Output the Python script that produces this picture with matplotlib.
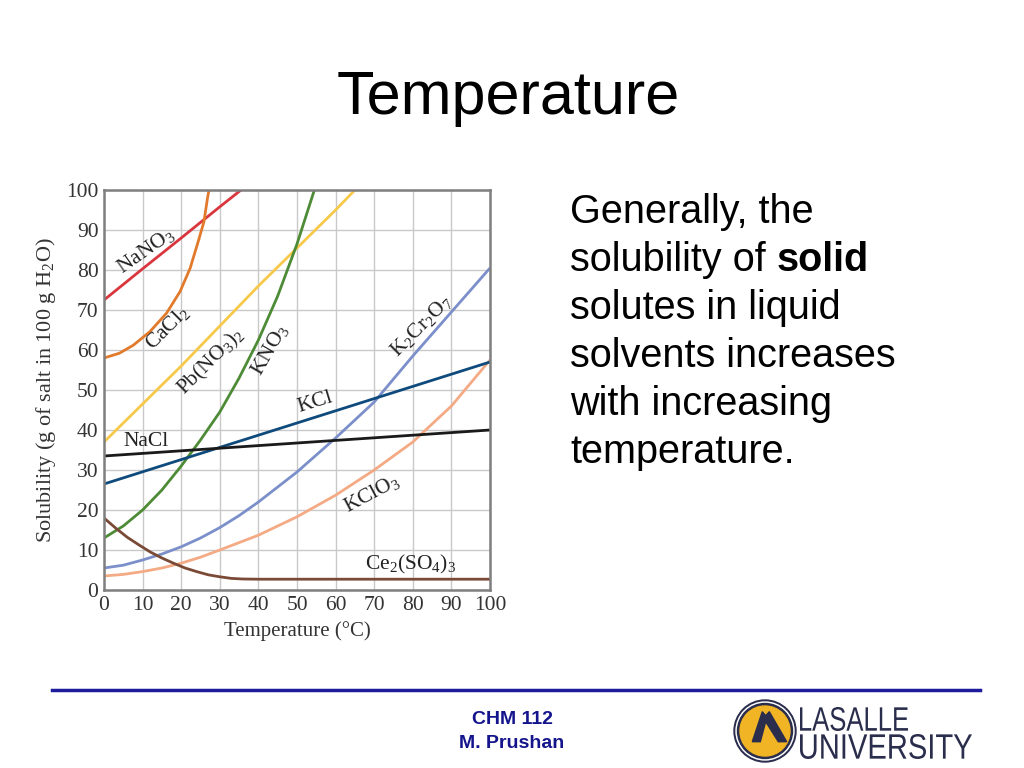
import numpy as np
import matplotlib
matplotlib.use('Agg')
import matplotlib.pyplot as plt
from matplotlib.patches import Circle, Polygon, PathPatch
from matplotlib.lines import Line2D
from matplotlib.textpath import TextPath
from matplotlib.font_manager import FontProperties
from matplotlib.transforms import Affine2D

plt.rcParams['mathtext.fontset'] = 'custom'
plt.rcParams['mathtext.rm'] = 'Liberation Serif'
plt.rcParams['mathtext.it'] = 'Liberation Serif:italic'

SERIF = ['Liberation Serif', 'DejaVu Serif']
SANS = ['Liberation Sans', 'DejaVu Sans']

# solubility curves (T in degC, S in g / 100 g water)
t_nano3 = [0, 10, 20, 30, 35.5]
s_nano3 = [72.5, 80.3, 88, 95.8, 100]

t_cacl2 = [0, 4, 7.6, 11.9, 16.2, 19.7, 22.3, 24.4, 25.9, 26.8, 27.2]
s_cacl2 = [58, 59.2, 61.2, 64.6, 69.2, 74.6, 80.4, 87.1, 92.1, 97.9, 100]

t_pbno3 = [0, 10, 20, 30, 40, 50, 60, 65]
s_pbno3 = [37, 46.5, 56, 66, 76, 85.5, 95, 100]

t_kno3 = [0, 5, 10, 15, 20, 25, 30, 35, 40, 45, 50, 54.5]
s_kno3 = [13, 16, 20, 25, 31, 37.5, 44.5, 53, 62.5, 73.5, 86.5, 100]

t_k2cr2o7 = [0, 5, 10, 15, 20, 25, 30, 35, 40, 50, 60, 70, 80, 90, 100]
s_k2cr2o7 = [5.5, 6.2, 7.5, 9, 10.8, 13, 15.6, 18.6, 22, 29.5, 38, 47, 58.5, 69.5, 80.5]

t_kcl = [0, 20, 40, 60, 80, 100]
s_kcl = [26.5, 32.6, 38.7, 44.8, 50.9, 57]

t_nacl = [0, 20, 40, 60, 80, 100]
s_nacl = [33.5, 34.8, 36.1, 37.4, 38.7, 40]

t_kclo3 = [0, 5, 10, 15, 20, 25, 30, 40, 50, 60, 70, 80, 90, 100]
s_kclo3 = [3.5, 3.9, 4.6, 5.5, 6.7, 8.2, 10, 13.7, 18.3, 23.7, 30, 37, 46, 57.5]

t_ce = [0, 3, 6, 9, 12, 15, 18, 21, 24, 27, 30, 33, 36, 40, 100]
s_ce = [18, 15.5, 13.2, 11.3, 9.5, 8, 6.7, 5.5, 4.6, 3.8, 3.3, 2.9, 2.75, 2.7, 2.7]

series = [
    (t_nano3, s_nano3, '#d9363e'),
    (t_cacl2, s_cacl2, '#e27a2c'),
    (t_pbno3, s_pbno3, '#f6c94a'),
    (t_kno3, s_kno3, '#4d8b36'),
    (t_k2cr2o7, s_k2cr2o7, '#7b8fca'),
    (t_kclo3, s_kclo3, '#f4aa84'),
    (t_kcl, s_kcl, '#0e4a7c'),
    (t_nacl, s_nacl, '#1a1a1a'),
    (t_ce, s_ce, '#7b4a36'),
]

# curve labels: text, T, S, rotation
labels = [
    (r'NaNO$_3$', 10.8, 84.8, 35),
    (r'CaCl$_2$', 16.3, 65.5, 45),
    (r'Pb(NO$_3$)$_2$', 27.8, 57, 45),
    (r'KNO$_3$', 43, 60, 60),
    (r'K$_2$Cr$_2$O$_7$', 82.3, 66, 45),
    (r'KCl', 54.7, 47, 17),
    (r'NaCl', 11, 37, 0),
    (r'KClO$_3$', 69.5, 24, 28),
    (r'Ce$_2$(SO$_4$)$_3$', 79.5, 6.3, 0),
]

fig = plt.figure(figsize=(10.24, 7.68), dpi=100)

# slide background in pixel coordinates
bg = fig.add_axes([0, 0, 1, 1])
bg.set_xlim(0, 1024)
bg.set_ylim(768, 0)
bg.axis('off')

bg.text(508, 114, 'Temperature', ha='center', va='baseline', fontsize=44,
        family=SANS, color='black')

body = ['Generally, the', 'solubility of ', 'solutes in liquid',
        'solvents increases', 'with increasing', 'temperature.']
for i, line in enumerate(body):
    t = bg.text(570, 223 + 48 * i, line, ha='left', va='baseline',
                fontsize=28.5, family=SANS, color='black')
    if i == 1:
        fig.canvas.draw()
        bb = t.get_window_extent()
        x_end = bb.x1 * 1024 / fig.bbox.width
        bg.text(x_end, 223 + 48, 'solid', ha='left', va='baseline',
                fontsize=28.5, family=SANS, weight='bold', color='black')

bg.add_line(Line2D([52, 980], [690, 690], color='#1c1c9c', lw=2.5))
bg.text(512, 724, 'CHM 112', ha='center', va='baseline', fontsize=14,
        family=SANS, weight='bold', color='#14148c')
bg.text(512, 748, 'M. Prushan', ha='center', va='baseline', fontsize=14,
        family=SANS, weight='bold', color='#14148c')

# university logo
navy = '#2a2d4c'
cx, cy = 765, 731
bg.add_patch(Circle((cx, cy), 31, color=navy))
bg.add_patch(Circle((cx, cy), 29, color='white'))
bg.add_patch(Circle((cx, cy), 27.5, color=navy))
bg.add_patch(Circle((cx, cy), 25, color='#f1b425'))
bg.add_patch(Polygon([(752.3, 741.7), (762.3, 711.7), (765.7, 715.7),
                      (769.3, 711.7), (786.7, 741.7), (778.3, 741.7),
                      (765.7, 721.7), (760.3, 741.7)], color=navy))


def squeezed_text(s, x0, x1, top, base):
    # draw s condensed into the box [x0, x1] x [top, base]
    path = TextPath((0, 0), s, size=10, prop=FontProperties(family='Liberation Sans'))
    ext = path.get_extents()
    sx = (x1 - x0) / ext.width
    sy = (base - top) / ext.height
    tr = Affine2D().translate(-ext.x0, -ext.y0).scale(sx, -sy).translate(x0, base)
    bg.add_patch(PathPatch(path, transform=tr + bg.transData, color=navy, lw=0))


squeezed_text('LASALLE', 800, 908, 707, 731)
squeezed_text('UNIVERSITY', 800, 972, 734, 759)

# the solubility chart
ax = fig.add_axes([104 / 1024, 1 - 590 / 768, 386 / 1024, 400 / 768])
for t, s, c in series:
    ax.plot(t, s, color=c, lw=2.0, solid_capstyle='butt', clip_on=True)

for txt, tx, sy, rot in labels:
    ax.text(tx, sy, txt, ha='center', va='center', rotation=rot,
            rotation_mode='anchor', fontsize=15.5, family=SERIF, color='#222222')

ax.set_xlim(0, 100)
ax.set_ylim(0, 100)
ax.set_xticks(np.arange(0, 101, 10))
ax.set_yticks(np.arange(0, 101, 10))
ax.tick_params(length=0, labelsize=15.5, pad=4, colors='#333333')
for lab in ax.get_xticklabels() + ax.get_yticklabels():
    lab.set_family(SERIF)
ax.grid(True, color='#c9c9c9', lw=1.0)
ax.set_axisbelow(True)
for sp in ax.spines.values():
    sp.set_color('#7f7f7f')
    sp.set_linewidth(1.8)

ax.set_xlabel('Temperature (°C)', family=SERIF, fontsize=15,
              color='#333333', labelpad=5)
ax.set_ylabel(r'Solubility (g of salt in 100 g H$_2$O)', family=SERIF,
              fontsize=16, color='#333333', labelpad=6)

fig.savefig('out.png', dpi=100)
